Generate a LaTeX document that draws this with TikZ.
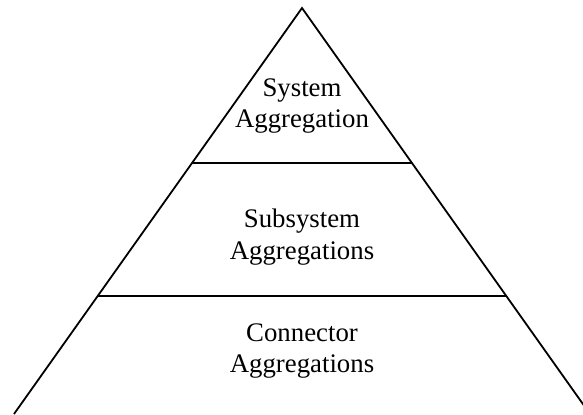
\documentclass[tikz,border=0pt]{standalone}
\usepackage{fontspec}
\setmainfont{Liberation Serif}
\begin{document}
\begin{tikzpicture}[x=0.5pt,y=-0.5pt,
  edge/.style={line width=0.9pt,black},
  label/.style={align=center,inner sep=0pt,font=\fontsize{13.4pt}{15.8pt}\selectfont}]
\useasboundingbox (0,0) rectangle (583,414);
\clip (0,0) rectangle (583,414);
\coordinate (apex) at (302,8);
\coordinate (bl) at (14,414);
\coordinate (br) at (590,414);
\coordinate (l1) at (192,163);
\coordinate (r1) at (412,163);
\coordinate (l2) at (98,296);
\coordinate (r2) at (506,296);
\draw[edge] (bl) -- (apex) -- (br);
\draw[edge] (l1) -- (r1);
\draw[edge] (l2) -- (r2);
\node[label] (sys) at (302,106) {System\\Aggregation};
\node[label] (sub) at (302,237) {Subsystem\\Aggregations};
\node[label] (con) at (302,351) {Connector\\Aggregations};
\end{tikzpicture}
\end{document}
